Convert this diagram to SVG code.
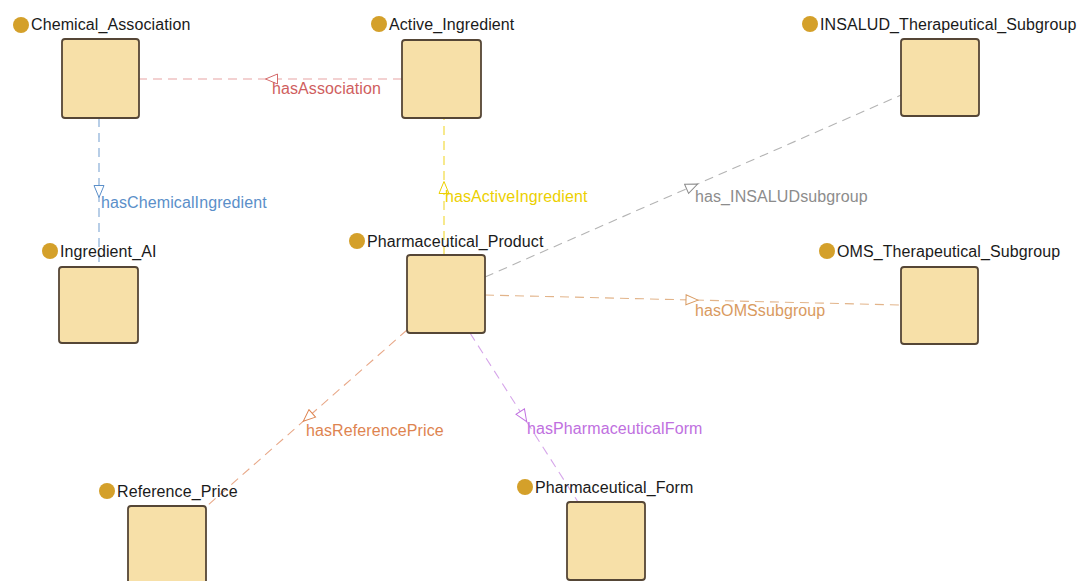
<svg xmlns="http://www.w3.org/2000/svg" width="1082" height="581" viewBox="0 0 1082 581">
<style>
.box{fill:#f7e0a8;stroke:#554636;stroke-width:1.8}
.dot{fill:#d4a02a}
.lbl{font-family:"Liberation Sans",Arial,sans-serif;font-size:16px;letter-spacing:0.1px;fill:#1a1a1a}
.el{font-family:"Liberation Sans",Arial,sans-serif;font-size:16px;letter-spacing:0.1px}
.e{fill:none;stroke-width:1.1;stroke-dasharray:9 6}
</style>
<defs>
<marker id="mRed" viewBox="-1 -6 14 12" markerWidth="14" markerHeight="12" refX="7" refY="0" orient="auto" markerUnits="userSpaceOnUse"><path d="M12,0 L0,-5 L0,5 Z" fill="#fff" stroke="#d46a6a"/></marker>
<marker id="mBlue" viewBox="-1 -6 14 12" markerWidth="14" markerHeight="12" refX="7" refY="0" orient="auto" markerUnits="userSpaceOnUse"><path d="M12,0 L0,-5 L0,5 Z" fill="#fff" stroke="#5b8fc9"/></marker>
<marker id="mYel" viewBox="-1 -6 14 12" markerWidth="14" markerHeight="12" refX="7" refY="0" orient="auto" markerUnits="userSpaceOnUse"><path d="M12,0 L0,-5 L0,5 Z" fill="#fff" stroke="#ecd000"/></marker>
<marker id="mGray" viewBox="-1 -6 14 12" markerWidth="14" markerHeight="12" refX="7" refY="0" orient="auto" markerUnits="userSpaceOnUse"><path d="M12,0 L0,-5 L0,5 Z" fill="#fff" stroke="#8c8c8c"/></marker>
<marker id="mTan" viewBox="-1 -6 14 12" markerWidth="14" markerHeight="12" refX="7" refY="0" orient="auto" markerUnits="userSpaceOnUse"><path d="M12,0 L0,-5 L0,5 Z" fill="#fff" stroke="#d99a60"/></marker>
<marker id="mOra" viewBox="-1 -6 14 12" markerWidth="14" markerHeight="12" refX="7" refY="0" orient="auto" markerUnits="userSpaceOnUse"><path d="M12,0 L0,-5 L0,5 Z" fill="#fff" stroke="#de8450"/></marker>
<marker id="mPur" viewBox="-1 -6 14 12" markerWidth="14" markerHeight="12" refX="7" refY="0" orient="auto" markerUnits="userSpaceOnUse"><path d="M12,0 L0,-5 L0,5 Z" fill="#fff" stroke="#c070e0"/></marker>
</defs>
<rect width="1082" height="581" fill="#fff"/>
<g id="connectors">
<path class="e" d="M402,79 L270.5,79 L139,79" stroke="#e8a4a4" marker-mid="url(#mRed)"/>
<text class="el" x="272" y="94" fill="#cf5e5e">hasAssociation</text>
<path class="e" d="M99,118 L99,192.5 L99,267" stroke="#7ea6d4" marker-mid="url(#mBlue)"/>
<text class="el" x="101" y="208" fill="#5b8fc9">hasChemicalIngredient</text>
<path class="e" d="M444,255 L444,186.5 L444,118" stroke="#f0d830" marker-mid="url(#mYel)"/>
<text class="el" x="445" y="202" fill="#ecd000">hasActiveIngredient</text>
<path class="e" d="M485,277 L693,186 L901,95" stroke="#b4b4b4" marker-mid="url(#mGray)"/>
<text class="el" x="695" y="202" fill="#8c8c8c">has_INSALUDsubgroup</text>
<path class="e" d="M485,295 L693,300 L901,305" stroke="#e2b48a" marker-mid="url(#mTan)"/>
<text class="el" x="695" y="316" fill="#d99a60">hasOMSsubgroup</text>
<path class="e" d="M407,330 L307,418 L207,506" stroke="#e8a888" marker-mid="url(#mOra)"/>
<text class="el" x="306" y="436" fill="#de8450">hasReferencePrice</text>
<path class="e" d="M470,333 L524,417.5 L578,502" stroke="#d6a6ea" marker-mid="url(#mPur)"/>
<text class="el" x="527" y="434" fill="#c070e0">hasPharmaceuticalForm</text>
</g>
<g id="Chemical_Association">
<rect class="box" x="62" y="39" width="77" height="79" rx="3"/>
<circle class="dot" cx="21" cy="25" r="8"/>
<text class="lbl" x="31" y="30">Chemical_Association</text>
</g>
<g id="Active_Ingredient">
<rect class="box" x="402" y="40" width="79" height="78" rx="3"/>
<circle class="dot" cx="379" cy="24" r="8"/>
<text class="lbl" x="389" y="30">Active_Ingredient</text>
</g>
<g id="INSALUD_Therapeutical_Subgroup">
<rect class="box" x="901" y="39" width="78" height="77" rx="3"/>
<circle class="dot" cx="810" cy="24" r="8"/>
<text class="lbl" x="820" y="30">INSALUD_Therapeutical_Subgroup</text>
</g>
<g id="Ingredient_AI">
<rect class="box" x="59" y="267" width="79" height="76" rx="3"/>
<circle class="dot" cx="50" cy="251" r="8"/>
<text class="lbl" x="60" y="257">Ingredient_AI</text>
</g>
<g id="Pharmaceutical_Product">
<rect class="box" x="407" y="255" width="78" height="78" rx="3"/>
<circle class="dot" cx="357" cy="241" r="8"/>
<text class="lbl" x="367" y="247">Pharmaceutical_Product</text>
</g>
<g id="OMS_Therapeutical_Subgroup">
<rect class="box" x="901" y="267" width="77" height="77" rx="3"/>
<circle class="dot" cx="827" cy="251" r="8"/>
<text class="lbl" x="837" y="257">OMS_Therapeutical_Subgroup</text>
</g>
<g id="Reference_Price">
<rect class="box" x="128" y="506" width="78" height="80" rx="3"/>
<circle class="dot" cx="107" cy="491" r="8"/>
<text class="lbl" x="117" y="497">Reference_Price</text>
</g>
<g id="Pharmaceutical_Form">
<rect class="box" x="567" y="502" width="78" height="78" rx="3"/>
<circle class="dot" cx="525" cy="487" r="8"/>
<text class="lbl" x="535" y="493">Pharmaceutical_Form</text>
</g>
</svg>
